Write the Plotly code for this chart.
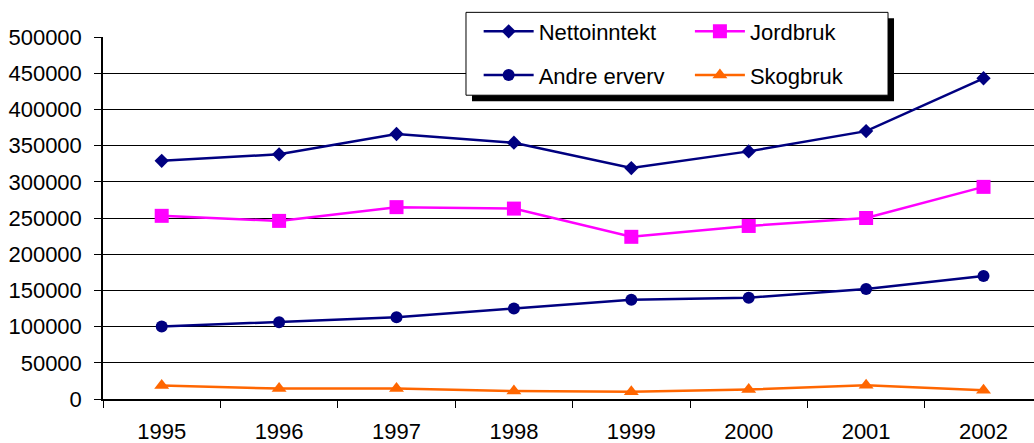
import plotly.graph_objects as go

years = ["1995", "1996", "1997", "1998", "1999", "2000", "2001", "2002"]
nettoinntekt = [329000, 338000, 366000, 354000, 319000, 342000, 370000, 443000]
jordbruk = [253000, 246000, 265000, 263000, 224000, 239000, 250000, 293000]
andre_erverv = [100000, 106000, 113000, 125000, 137000, 140000, 152000, 170000]
skogbruk = [18500, 14500, 14500, 11000, 10000, 13000, 19000, 12000]

y_ticks = list(range(0, 500001, 50000))

FONT = "Liberation Sans, Arial, sans-serif"

fig = go.Figure()

series = [
    ("Nettoinntekt", nettoinntekt, "#000080", "diamond", 11, "legend"),
    ("Jordbruk", jordbruk, "#FF00FF", "square", 14, "legend3"),
    ("Andre erverv", andre_erverv, "#000080", "circle", 12, "legend2"),
    ("Skogbruk", skogbruk, "#FF6600", "triangle-up", 13, "legend4"),
]

for name, values, color, symbol, size, leg in series:
    fig.add_trace(go.Scatter(
        x=years,
        y=values,
        mode="lines+markers",
        name=name,
        legend=leg,
        showlegend=True,
        line=dict(color=color, width=2.5),
        marker=dict(symbol=symbol, size=size, color=color),
    ))

# Ramme og skygge rundt forklaringen
box = dict(x0=0.3899, x1=0.8432, y0=0.8392, y1=1.0681)
dx, dy = 6 / 931, 6 / 362
fig.add_shape(type="rect", xref="paper", yref="paper", layer="above",
              x0=box["x0"] + dx, x1=box["x1"] + dx, y0=box["y0"] - dy, y1=box["y1"] - dy,
              fillcolor="black", line=dict(width=0))
fig.add_shape(type="rect", xref="paper", yref="paper", layer="above",
              fillcolor="white", line=dict(color="black", width=1), **box)

leg_common = dict(bgcolor="rgba(0,0,0,0)", borderwidth=0, xanchor="left",
                  yanchor="middle", itemwidth=50,
                  font=dict(family=FONT, size=22, color="black"))
col1, col2 = 0.4035, 0.6304
row1, row2 = 1.015, 0.8944

fig.update_layout(
    width=1034,
    height=443,
    margin=dict(l=103, r=0, t=37, b=44, autoexpand=False),
    showlegend=True,
    paper_bgcolor="white",
    plot_bgcolor="white",
    font=dict(family=FONT, size=22, color="black"),
    legend=dict(x=col1, y=row1, **leg_common),
    legend2=dict(x=col1, y=row2, **leg_common),
    legend3=dict(x=col2, y=row1, **leg_common),
    legend4=dict(x=col2, y=row2, **leg_common),
    xaxis=dict(
        type="category",
        range=[-0.5, 7.43],
        automargin=False,
        showline=True,
        linecolor="black",
        linewidth=1.5,
        ticks="outside",
        tickson="boundaries",
        ticklen=7,
        tickcolor="black",
        showgrid=False,
        tickfont=dict(size=22),
        ticklabelstandoff=12,
    ),
    yaxis=dict(
        range=[0, 500000],
        automargin=False,
        tickvals=y_ticks,
        ticktext=[str(v) for v in y_ticks],
        showline=True,
        linecolor="black",
        linewidth=1.5,
        ticks="outside",
        ticklen=7,
        tickcolor="black",
        gridcolor="black",
        gridwidth=1,
        zeroline=False,
        tickfont=dict(size=22),
        ticklabelstandoff=8,
    ),
)

# fjerner standardmargen i nettleseren slik at figuren starter i hjørnet
fig.write_html("out.html", config={"displayModeBar": False},
               post_script="document.body.style.margin='0';")
